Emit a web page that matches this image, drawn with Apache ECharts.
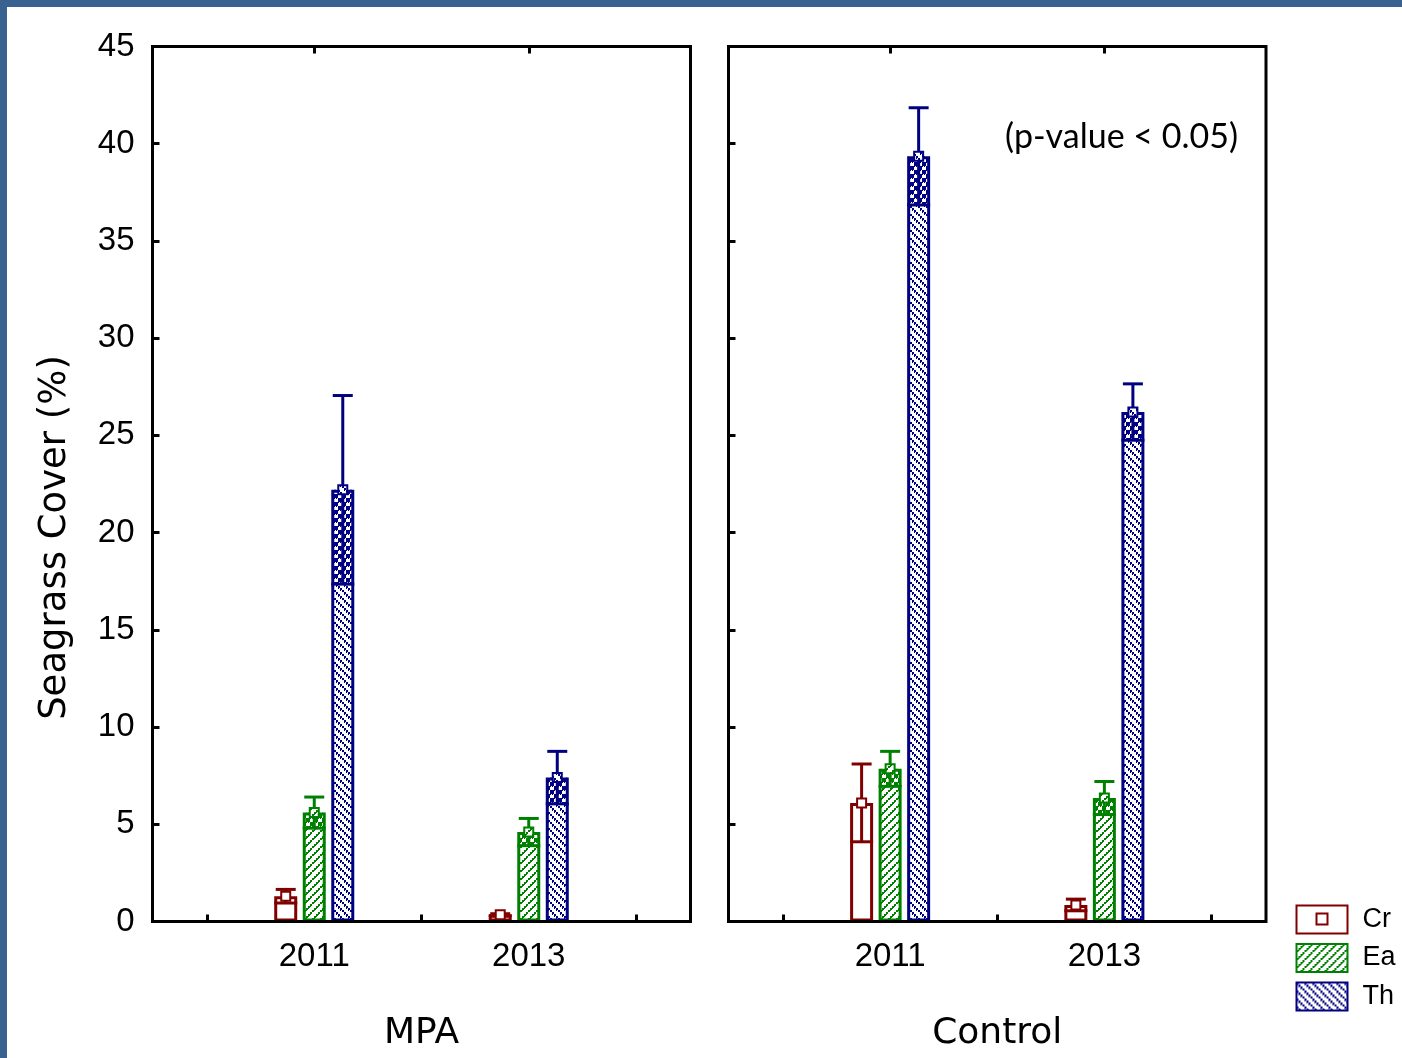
<!DOCTYPE html>
<html>
<head>
<meta charset="utf-8">
<title>Seagrass Cover</title>
<script src="https://cdn.jsdelivr.net/npm/echarts@6/dist/echarts.min.js"></script>
<style>
  html, body { margin: 0; padding: 0; background: #fff; overflow: hidden; }
  #chart { position: absolute; left: 0; top: 0; width: 1402px; height: 1058px; }
  .strip { position: absolute; background: #3A6291; z-index: 10; }
</style>
</head>
<body>
<div id="chart"></div>
<div class="strip" style="left:0;top:0;width:1402px;height:7px;"></div>
<div class="strip" style="left:0;top:0;width:7px;height:1058px;"></div>
<script>
// Years sampled and sites compared
const categories = ['2011', '2013'];
const sites = ['MPA', 'Control'];
const species = ['Cr', 'Ea', 'Th'];

// Mean seagrass cover (%) per species, one value per year
const mpaCr = [1.3, 0.35];
const mpaEa = [5.6, 4.6];
const mpaTh = [22.2, 7.4];
const controlCr = [6.1, 0.85];
const controlEa = [7.85, 6.35];
const controlTh = [39.35, 26.2];

// Standard errors matching the means above
const mpaCrSe = [0.35, 0.05];
const mpaEaSe = [0.8, 0.7];
const mpaThSe = [4.85, 1.35];
const controlCrSe = [2.0, 0.3];
const controlEaSe = [0.9, 0.85];
const controlThSe = [2.5, 1.45];

const yTicks = { min: 0, max: 45, interval: 5 };
const pNote = '(p-value < 0.05)';

const means = [[mpaCr, mpaEa, mpaTh], [controlCr, controlEa, controlTh]];
const errors = [[mpaCrSe, mpaEaSe, mpaThSe], [controlCrSe, controlEaSe, controlThSe]];

const lineColors = ['#800000', '#008000', '#000080'];

// Diagonal hatch tiles drawn as pixel staircases
function hatch(color, rising, background) {
  const c = document.createElement('canvas');
  c.width = 8; c.height = 8;
  const g = c.getContext('2d');
  if (background) { g.fillStyle = background; g.fillRect(0, 0, 8, 8); }
  g.fillStyle = color;
  for (let i = 0; i < 8; i += 2) {
    g.fillRect(i, rising ? 6 - i : i, 2, 2);
    g.fillRect(i, (rising ? 7 - i : i + 1) % 8, 1, 2);
  }
  return { image: c, repeat: 'repeat' };
}
const fills = ['#ffffff', hatch('#008000', true, '#ffffff'), hatch('#000080', false, '#ffffff')];
const overlays = [null, hatch('#008000', false, null), hatch('#000080', true, null)];

const BAR_W = 23;
const BAR_GAP = 0.24;
const pitch = BAR_W * (1 + BAR_GAP);

const labelFont = 'Liberation Sans, Arial, sans-serif';
const nameFont = 'DejaVu Sans, sans-serif';
const tickStyle = { show: true, inside: true, length: 7, lineStyle: { color: '#000', width: 3 } };

const frameLeft = [152.5, 728.5];
const frameRight = [711.5, 136];
const pad = 54.5;
const gridTop = 46.5, gridBottom = 136.5;

const grids = [];
const xAxes = [];
const yAxes = [];
sites.forEach((site, p) => {
  grids.push({ left: frameLeft[p] + pad, right: frameRight[p] + pad, top: gridTop, bottom: gridBottom, containLabel: false });
});
sites.forEach((site, p) => {
  grids.push({
    left: frameLeft[p], right: frameRight[p], top: gridTop, bottom: gridBottom,
    show: true, borderColor: '#000', borderWidth: 3, backgroundColor: 'transparent', z: 5
  });
});
// category axes: labels + ticks at category boundaries
sites.forEach((site, p) => {
  xAxes.push({
    type: 'category', gridIndex: p, data: categories,
    axisLine: { show: false },
    axisTick: Object.assign({ alignWithLabel: false }, tickStyle),
    axisLabel: { margin: 19, fontFamily: labelFont, fontSize: 33, color: '#000' },
    name: site, nameLocation: 'middle', nameGap: 94,
    nameTextStyle: { fontFamily: nameFont, fontSize: 36, color: '#000' }
  });
});
// same axes again, ticks at category centres
sites.forEach((site, p) => {
  xAxes.push({
    type: 'category', gridIndex: p, data: categories,
    axisLine: { show: false }, axisLabel: { show: false },
    axisTick: Object.assign({ alignWithLabel: true }, tickStyle)
  });
});
sites.forEach((site, p) => {
  yAxes.push({
    type: 'value', gridIndex: p, min: yTicks.min, max: yTicks.max, interval: yTicks.interval,
    offset: pad,
    axisLine: { show: false },
    axisTick: tickStyle,
    splitLine: { show: false },
    axisLabel: { show: p === 0, margin: 18, fontFamily: labelFont, fontSize: 33, color: '#000' },
    name: p === 0 ? 'Seagrass Cover (%)' : '',
    nameLocation: 'middle', nameGap: 79, nameRotate: 90,
    nameTextStyle: { fontFamily: nameFont, fontSize: 37, color: '#000', padding: [0, 107, 0, 0] }
  });
});
// hidden axes that hold the two frame grids
sites.forEach((site, p) => {
  xAxes.push({ type: 'value', gridIndex: 2 + p, show: false });
  yAxes.push({ type: 'value', gridIndex: 2 + p, show: false });
});

function errorRenderer(s) {
  return function (params, api) {
    const cat = api.value(0), m = api.value(1), e = api.value(2);
    const xc = api.coord([cat, 0])[0] + (s - 1) * pitch;
    const yM = api.coord([cat, m])[1];
    const yT = api.coord([cat, m + e])[1];
    const yL = api.coord([cat, Math.max(m - e, 0)])[1];
    const col = lineColors[s];
    const ls = { stroke: col, lineWidth: 3 };
    const kids = [];
    if (overlays[s]) {
      kids.push({ type: 'rect', shape: { x: xc - BAR_W / 2 + 1.5, y: yM, width: BAR_W - 3, height: yL - yM }, style: { fill: overlays[s] } });
    }
    kids.push({ type: 'line', shape: { x1: xc - BAR_W / 2, y1: yL, x2: xc + BAR_W / 2, y2: yL }, style: ls });
    kids.push({ type: 'line', shape: { x1: xc, y1: yT, x2: xc, y2: yL }, style: ls });
    kids.push({ type: 'line', shape: { x1: xc - 10, y1: yT, x2: xc + 10, y2: yT }, style: ls });
    kids.push({ type: 'rect', shape: { x: xc - 4.5, y: yM - 4.5, width: 9, height: 9 }, style: { fill: fills[s], stroke: col, lineWidth: 2 } });
    return { type: 'group', children: kids };
  };
}

const series = [];
sites.forEach((site, p) => {
  species.forEach((sp, s) => {
    series.push({
      type: 'bar', name: sp, xAxisIndex: p, yAxisIndex: p,
      data: means[p][s], barWidth: BAR_W, barGap: (BAR_GAP * 100) + '%',
      itemStyle: { color: fills[s], borderColor: lineColors[s], borderWidth: 3 },
      z: 2, silent: true
    });
  });
});
sites.forEach((site, p) => {
  species.forEach((sp, s) => {
    series.push({
      type: 'custom', name: site + ' ' + sp + ' SE', xAxisIndex: p, yAxisIndex: p,
      data: categories.map((c, i) => [i, means[p][s][i], errors[p][s][i]]),
      encode: { x: 0, y: 1 },
      renderItem: errorRenderer(s), z: 3, silent: true
    });
  });
});

const chart = echarts.init(document.getElementById('chart'), null, { renderer: 'canvas' });
chart.setOption({
  animation: false,
  backgroundColor: '#fff',
  title: {
    text: pNote, right: 164, top: 120, padding: 0,
    textStyle: { fontFamily: 'Lato, Open Sans, sans-serif', fontSize: 34, fontWeight: 'normal', color: '#000' }
  },
  legend: {
    orient: 'vertical', left: 1295.5, top: 904.5, padding: 0,
    itemWidth: 51, itemHeight: 28, itemGap: 8.5,
    selectedMode: false,
    textStyle: { fontFamily: labelFont, fontSize: 27, lineHeight: 28, color: '#000', padding: [0, 0, 0, 10] },
    data: [
      { name: 'Cr', icon: 'path://M0,0H51V28H0Z M20,8H31V19H20Z' },
      { name: 'Ea', icon: 'rect' },
      { name: 'Th', icon: 'rect' }
    ]
  },
  grid: grids,
  xAxis: xAxes,
  yAxis: yAxes,
  series: series
});
</script>
</body>
</html>
